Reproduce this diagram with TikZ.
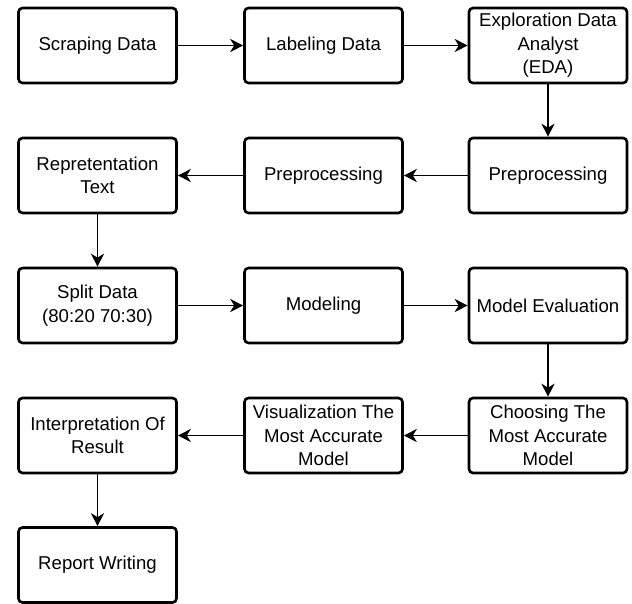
\documentclass[tikz,border=0pt]{standalone}
\usepackage{fontspec}
\setmainfont{Liberation Sans}
\usetikzlibrary{arrows.meta}
\begin{document}
\begin{tikzpicture}[x=1pt,y=-1pt,
  stepbox/.style={draw, line width=2.6pt, rounded corners=4pt,
    minimum width=158pt, minimum height=75pt, inner sep=0pt,
    align=center, font=\fontsize{18.6}{23.5}\selectfont},
  flow/.style={-{Stealth[length=13pt,width=13pt,inset=4pt]}, line width=1.9pt}]
\useasboundingbox (0,0) rectangle (632,603);
% row 1
\node[stepbox] (scrape) at (97.5,45.5) {Scraping Data};
\node[stepbox] (label)  at (323.5,45.5) {Labeling Data};
\node[stepbox] (eda)    at (548,45.5) {Exploration Data\\Analyst\\(EDA)};
% row 2
\node[stepbox] (rep)    at (97.5,175.5) {Repretentation\\Text};
\node[stepbox] (prep2)  at (323.5,175.5) {Preprocessing};
\node[stepbox] (prep1)  at (548,175.5) {Preprocessing};
% row 3
\node[stepbox] (split)  at (97.5,305.5) {Split Data\\(80:20 70:30)};
\node[stepbox] (model)  at (323.5,305.5) {Modeling};
\node[stepbox] (eval)   at (548,305.5) {Model Evaluation};
% row 4
\node[stepbox] (interp) at (97.5,435.5) {Interpretation Of\\Result};
\node[stepbox] (vis)    at (323.5,435.5) {Visualization The\\Most Accurate\\Model};
\node[stepbox] (choose) at (548,435.5) {Choosing The\\Most Accurate\\Model};
% row 5
\node[stepbox] (report) at (97.5,565) {Report Writing};
% connectors
\draw[flow] (scrape) -- (label);
\draw[flow] (label) -- (eda);
\draw[flow] (eda) -- (prep1);
\draw[flow] (prep1) -- (prep2);
\draw[flow] (prep2) -- (rep);
\draw[flow] (rep) -- (split);
\draw[flow] (split) -- (model);
\draw[flow] (model) -- (eval);
\draw[flow] (eval) -- (choose);
\draw[flow] (choose) -- (vis);
\draw[flow] (vis) -- (interp);
\draw[flow] (interp) -- (report);
\end{tikzpicture}
\end{document}
